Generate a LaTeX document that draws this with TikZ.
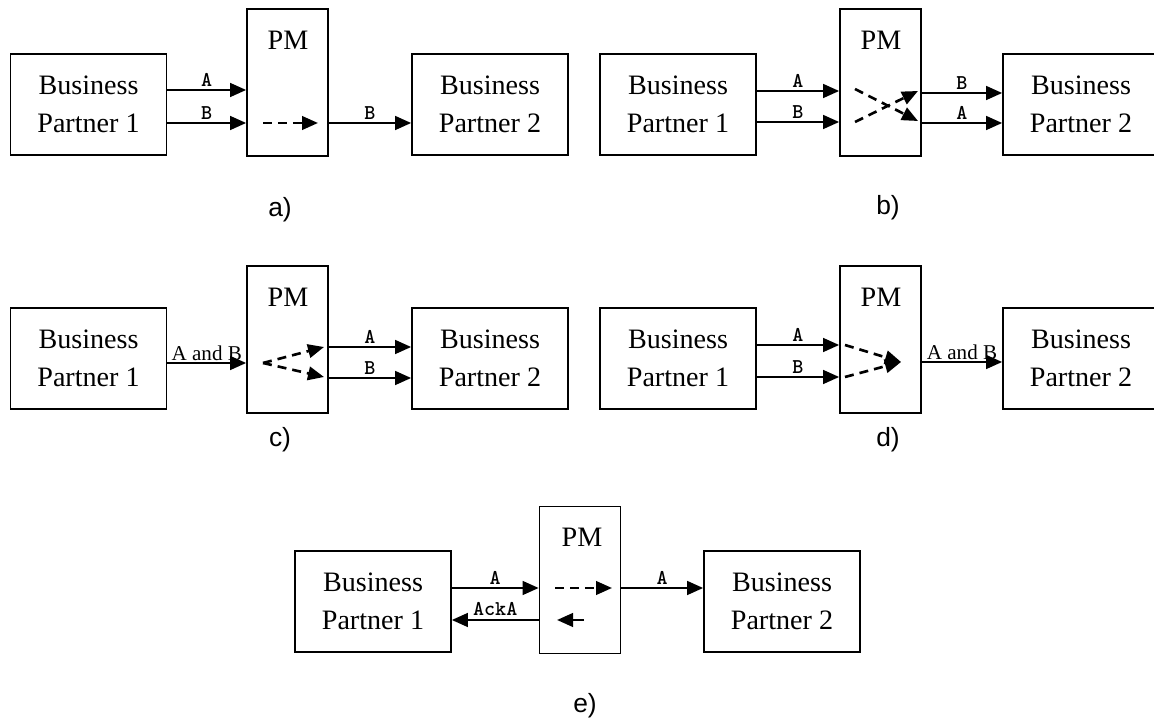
\documentclass[tikz,border=0pt]{standalone}
\usepackage{fontspec}
\setmainfont{Liberation Serif}
\newfontfamily\panelsans{Liberation Sans}
\usetikzlibrary{arrows.meta}

\begin{document}
\begin{tikzpicture}[x=0.02cm, y=-0.02cm,
  partner/.style={draw, line width=0.9pt, minimum width=3.12cm, minimum height=2.02cm,
    inner sep=0pt, align=center, font=\fontsize{16}{21.6}\selectfont},
  pmbox/.style={draw, line width=0.9pt, minimum width=1.62cm, minimum height=2.94cm, inner sep=0pt},
  pmtext/.style={font=\fontsize{16}{19}\selectfont},
  arr/.style={-{Triangle[length=0.32cm,width=0.27cm]}, line width=1.5pt},
  dasharr/.style={arr, dash pattern=on 0.18cm off 0.12cm},
  lbl/.style={above, inner sep=1.5pt, font=\ttfamily\bfseries\fontsize{12}{12}\selectfont},
  andlbl/.style={above, inner sep=0.3pt, font=\fontsize{12}{12}\selectfont},
  panel/.style={font=\panelsans\fontsize{15}{15}\selectfont}]
  \useasboundingbox (0,0) rectangle (1154,722);

  % a) one message dropped
  \node[partner] (bpa1) at (88.5,104.5) {Business\\Partner 1};
  \node[pmbox] (pma) at (287.5,82.5) {};
  \node[pmtext] (pmalbl) at (288,40) {PM};
  \node[partner] (bpa2) at (490,104.5) {Business\\Partner 2};
  \draw[arr] (bpa1.east |- 0,90) -- node[lbl] {A} (pma.west |- 0,90);
  \draw[arr] (bpa1.east |- 0,123) -- node[lbl] {B} (pma.west |- 0,123);
  \coordinate (pmain) at (263,123);
  \coordinate (pmaout) at (318,123);
  \draw[dasharr] (pmain) -- (pmaout);
  \draw[arr] (pma.east |- 0,123) -- node[lbl] {B} (bpa2.west |- 0,123);
  \node[panel] (taga) at (280,210) {a)};

  % b) order swapped
  \node[partner] (bpb1) at (678,104.5) {Business\\Partner 1};
  \node[pmbox] (pmb) at (880.5,82.5) {};
  \node[pmtext] (pmblbl) at (881,40) {PM};
  \node[partner] (bpb2) at (1081,104.5) {Business\\Partner 2};
  \draw[arr] (bpb1.east |- 0,91) -- node[lbl] {A} (pmb.west |- 0,91);
  \draw[arr] (bpb1.east |- 0,122) -- node[lbl] {B} (pmb.west |- 0,122);
  \coordinate (pmbina) at (855,89);
  \coordinate (pmbinb) at (855,122);
  \coordinate (pmbouta) at (918,121);
  \coordinate (pmboutb) at (918,91);
  \draw[dasharr] (pmbina) -- (pmbouta);
  \draw[dasharr] (pmbinb) -- (pmboutb);
  \draw[arr] (pmb.east |- 0,93) -- node[lbl] {B} (bpb2.west |- 0,93);
  \draw[arr] (pmb.east |- 0,123) -- node[lbl] {A} (bpb2.west |- 0,123);
  \node[panel] (tagb) at (888,208) {b)};

  % c) one message split
  \node[partner] (bpc1) at (88.5,358.5) {Business\\Partner 1};
  \node[pmbox] (pmc) at (287.5,339.5) {};
  \node[pmtext] (pmclbl) at (288,297) {PM};
  \node[partner] (bpc2) at (490,358.5) {Business\\Partner 2};
  \draw[arr] (bpc1.east |- 0,363) -- node[andlbl] {A and B} (pmc.west |- 0,363);
  \coordinate (pmcin) at (263,363);
  \coordinate (pmcouta) at (324,347);
  \coordinate (pmcoutb) at (324,377);
  \draw[dasharr] (pmcin) -- (pmcouta);
  \draw[dasharr] (pmcin) -- (pmcoutb);
  \draw[arr] (pmc.east |- 0,347) -- node[lbl] {A} (bpc2.west |- 0,347);
  \draw[arr] (pmc.east |- 0,378) -- node[lbl] {B} (bpc2.west |- 0,378);
  \node[panel] (tagc) at (280,440) {c)};

  % d) two messages merged
  \node[partner] (bpd1) at (678,358.5) {Business\\Partner 1};
  \node[pmbox] (pmd) at (880.5,339.5) {};
  \node[pmtext] (pmdlbl) at (881,297) {PM};
  \node[partner] (bpd2) at (1081,358.5) {Business\\Partner 2};
  \draw[arr] (bpd1.east |- 0,345) -- node[lbl] {A} (pmd.west |- 0,345);
  \draw[arr] (bpd1.east |- 0,377) -- node[lbl] {B} (pmd.west |- 0,377);
  \coordinate (pmdina) at (845,345);
  \coordinate (pmdinb) at (845,377);
  \coordinate (pmdout) at (901,362);
  \draw[dasharr] (pmdina) -- (pmdout);
  \draw[dasharr] (pmdinb) -- (pmdout);
  \draw[arr] (pmd.east |- 0,362) -- node[andlbl] {A and B} (bpd2.west |- 0,362);
  \node[panel] (tagd) at (888,440) {d)};

  % e) acknowledgement sent by the PM
  \node[partner] (bpe1) at (373,601.5) {Business\\Partner 1};
  \node[pmbox] (pme) at (580,580) {};
  \node[pmtext] (pmelbl) at (582,537) {PM};
  \node[partner] (bpe2) at (782,601.5) {Business\\Partner 2};
  \draw[arr] (bpe1.east |- 0,588) -- node[lbl] {A} (pme.west |- 0,588);
  \draw[arr] (pme.west |- 0,620) -- node[lbl] {AckA} (bpe1.east |- 0,620);
  \coordinate (pmein) at (555,588);
  \coordinate (pmeout) at (612,588);
  \draw[dasharr] (pmein) -- (pmeout);
  \coordinate (pmeack) at (584,620);
  \coordinate (pmeackend) at (557,620);
  \draw[arr] (pmeack) -- (pmeackend);
  \draw[arr] (pme.east |- 0,588) -- node[lbl] {A} (bpe2.west |- 0,588);
  \node[panel] (tage) at (585,706) {e)};
\end{tikzpicture}
\end{document}
